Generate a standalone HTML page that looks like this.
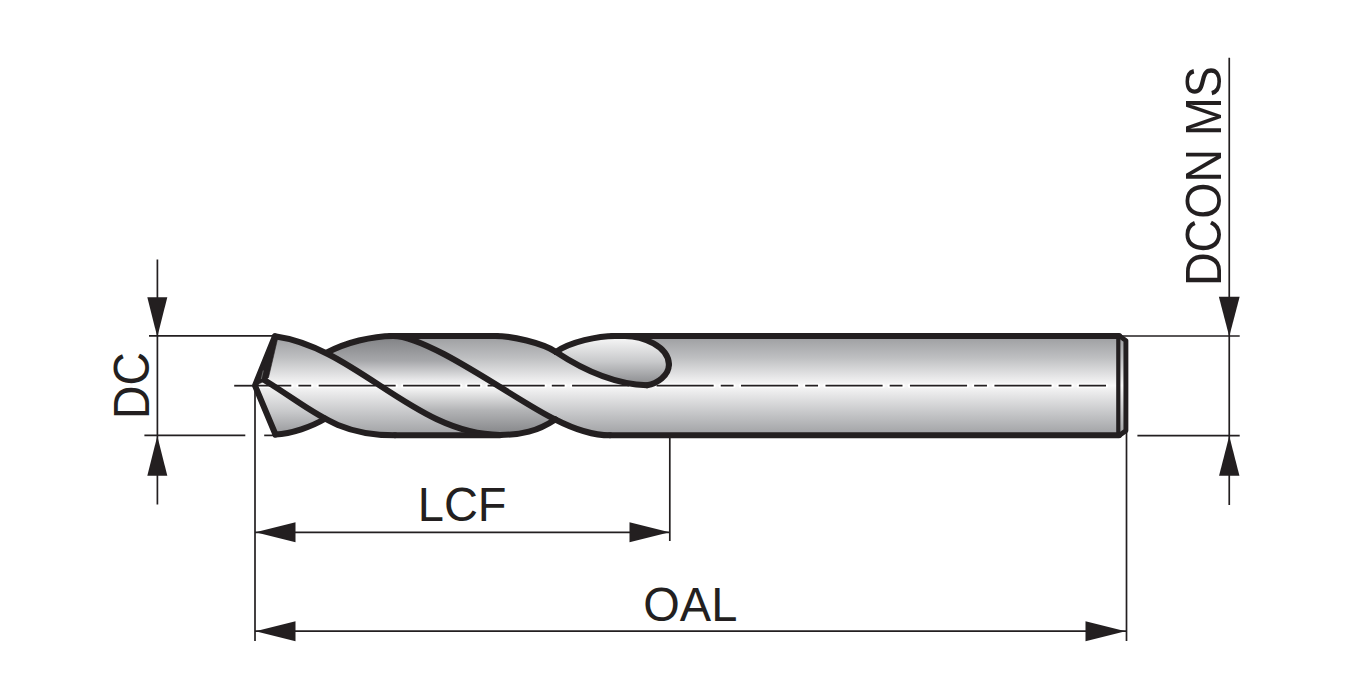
<!DOCTYPE html>
<html><head><meta charset="utf-8"><style>
html,body{margin:0;padding:0;background:#fff;width:1353px;height:700px;overflow:hidden;position:relative}
</style></head><body>
<svg width="1353" height="700" viewBox="0 0 1353 700" style="position:absolute;left:0;top:0">
<defs>
<linearGradient id="gL" gradientUnits="userSpaceOnUse" x1="0" y1="336" x2="0" y2="435">
<stop offset="0" stop-color="#9c9da0"/><stop offset="0.22" stop-color="#bebfc1"/><stop offset="0.42" stop-color="#e8e8e9"/>
<stop offset="0.5" stop-color="#f8f8f8"/><stop offset="0.58" stop-color="#e9e9ea"/><stop offset="0.8" stop-color="#c2c3c5"/><stop offset="1" stop-color="#a0a1a4"/>
</linearGradient>
<linearGradient id="gF" gradientUnits="userSpaceOnUse" x1="0" y1="336" x2="0" y2="435">
<stop offset="0" stop-color="#7f8083"/><stop offset="0.25" stop-color="#a6a7aa"/><stop offset="0.45" stop-color="#ebebec"/>
<stop offset="0.52" stop-color="#f6f6f6"/><stop offset="0.75" stop-color="#b3b4b6"/><stop offset="1" stop-color="#838487"/>
</linearGradient>
<linearGradient id="gT" gradientUnits="userSpaceOnUse" x1="0" y1="338" x2="0" y2="385">
<stop offset="0" stop-color="#f6f6f6"/><stop offset="0.5" stop-color="#c8c9cb"/><stop offset="1" stop-color="#898a8d"/>
</linearGradient>
<linearGradient id="gB" gradientUnits="userSpaceOnUse" x1="0" y1="386" x2="0" y2="436">
<stop offset="0" stop-color="#f3f3f3"/><stop offset="0.5" stop-color="#c9cacc"/><stop offset="1" stop-color="#949598"/>
</linearGradient>
</defs>
<path d="M255.00,385.60 L274.90,336.30 C293.23,338.85 310.42,345.24 327.00,353.60 C345.80,342.61 371.76,335.90 393.00,335.90 L495,335.90 C511.39,335.90 542.35,342.88 556.00,351.90 C570.04,341.97 598.04,335.90 615.00,335.90 L1119,335.90 L1126,340.8 L1126,430.5 L1119,435.35 L610,435.35 C592.60,435.35 572.32,428.26 555.30,419.53 C537.06,431.45 521.39,434.90 500.00,434.90 L500,435.35 L395,435.35 C364.54,435.35 344.07,428.94 325.00,418.75 C311.71,426.67 291.47,433.75 275.50,434.50 Z" fill="url(#gL)"/>
<path d="M327.00,352.50 C345.80,342.61 371.76,335.90 393.00,335.90 C430.17,335.90 520.41,403.52 555.30,419.40 L555.30,419.40 C537.06,431.45 521.39,434.90 500.00,434.90 C434.43,434.90 384.27,382.46 327.00,353.60 Z" fill="url(#gF)"/>
<path d="M556.00,351.90 C570.04,341.97 598.04,335.90 615.00,335.90 L625,335.90 C642.38,335.90 668.90,346.36 668.90,364.50 C668.90,375.65 656.94,383.69 647.00,385.20 L647.00,385.20 C614.01,384.12 583.10,369.78 556.00,351.90 Z" fill="url(#gT)"/>
<path d="M255.00,385.60 L275.50,434.50 C291.47,433.75 311.71,426.67 325.00,418.75 L325.00,418.75 C306.34,408.78 289.03,395.21 265.00,380.50 Z" fill="url(#gB)"/>
<path d="M234.2,385.7 L1106,385.7" stroke="#fff" stroke-opacity="0.9" stroke-width="4.5" stroke-linecap="round" stroke-dasharray="57.1 7.1 12.8 7.47" fill="none"/>
<path d="M234.2,385.7 L1106,385.7" stroke="#231f20" stroke-width="1.8" stroke-dasharray="57.1 7.1 12.8 7.47" fill="none"/>
<g fill="none" stroke="#231f20" stroke-width="6" stroke-linejoin="round" stroke-linecap="round">
<path d="M274.90,336.30 C356.50,347.67 415.43,434.90 500.00,434.90"/>
<path d="M500.00,434.90 C521.39,434.90 537.06,431.45 555.30,419.40"/>
<path d="M327.00,352.50 C345.80,342.61 371.76,335.90 393.00,335.90"/>
<path d="M393.00,335.90 C430.17,335.90 520.41,403.52 555.30,419.40"/>
<path d="M555.30,419.53 C572.32,428.26 592.60,435.35 610.00,435.35"/>
<path d="M495.00,335.90 C511.39,335.90 542.35,342.88 556.00,351.90"/>
<path d="M556.00,351.90 C583.10,369.78 614.01,384.12 647.00,385.20"/>
<path d="M647.00,385.20 C656.94,383.69 668.90,375.65 668.90,364.50"/>
<path d="M668.90,364.50 C668.90,346.36 642.38,335.90 625.00,335.90"/>
<path d="M556.00,351.90 C570.04,341.97 598.04,335.90 615.00,335.90"/>
<path d="M265.00,380.50 C313.59,410.25 334.73,435.35 395.00,435.35"/>
<path d="M275.50,434.50 C291.47,433.75 311.71,426.67 325.00,418.75"/>
<path d="M274.90,336.30 L255.00,385.60 L275.50,434.50"/>
<path d="M390,335.90 L497,335.90 M612,335.90 L1119,335.90 M1119,435.35 L610,435.35 M500,435.35 L395,435.35"/>
</g>
<path d="M274.9,336.3 L277.5,339 L268.5,377.5 L264,381.5 L255,385.6 Z" fill="#231f20" stroke="#231f20" stroke-width="0.6" stroke-linejoin="round"/>
<path d="M1118.3,337 L1118.3,434" stroke="#231f20" stroke-width="4.2"/>
<path d="M1117,335.9 L1119.5,335.9 L1125.9,340.6 L1125.9,430.7 L1119.5,435.35 L1117,435.35" fill="none" stroke="#231f20" stroke-width="4.9" stroke-linejoin="round"/>
<path d="M263.3,370.5 L261.3,379" stroke="#6e6e6e" stroke-width="0.9"/>
<line x1="157.40" y1="259.50" x2="157.40" y2="504.50" stroke="#231f20" stroke-width="1.70"/>
<line x1="149.00" y1="335.90" x2="275.00" y2="335.90" stroke="#231f20" stroke-width="1.70"/>
<line x1="144.40" y1="435.40" x2="245.30" y2="435.40" stroke="#231f20" stroke-width="1.70"/>
<line x1="264.20" y1="435.40" x2="275.00" y2="435.40" stroke="#231f20" stroke-width="1.70"/>
<path d="M157.30,337.00 L147.30,297.20 L167.30,297.20 Z" fill="#231f20"/>
<path d="M157.30,436.00 L147.30,475.80 L167.30,475.80 Z" fill="#231f20"/>
<line x1="255.00" y1="385.50" x2="255.00" y2="641.00" stroke="#231f20" stroke-width="1.70"/>
<line x1="669.80" y1="437.00" x2="669.80" y2="541.00" stroke="#231f20" stroke-width="1.70"/>
<line x1="1126.50" y1="430.00" x2="1126.50" y2="641.00" stroke="#231f20" stroke-width="1.70"/>
<line x1="255.00" y1="532.30" x2="669.80" y2="532.30" stroke="#231f20" stroke-width="1.70"/>
<path d="M255.50,532.30 L295.50,522.30 L295.50,542.30 Z" fill="#231f20"/>
<path d="M669.50,532.30 L629.50,522.30 L629.50,542.30 Z" fill="#231f20"/>
<line x1="255.00" y1="631.20" x2="1126.50" y2="631.20" stroke="#231f20" stroke-width="1.70"/>
<path d="M255.50,631.20 L295.50,621.20 L295.50,641.20 Z" fill="#231f20"/>
<path d="M1125.50,631.20 L1085.50,621.20 L1085.50,641.20 Z" fill="#231f20"/>
<line x1="1229.25" y1="57.70" x2="1229.25" y2="505.00" stroke="#231f20" stroke-width="1.70"/>
<line x1="1120.00" y1="336.00" x2="1239.70" y2="336.00" stroke="#231f20" stroke-width="1.70"/>
<line x1="1137.40" y1="435.60" x2="1239.70" y2="435.60" stroke="#231f20" stroke-width="1.70"/>
<path d="M1229.25,336.50 L1218.85,296.70 L1239.65,296.70 Z" fill="#231f20"/>
<path d="M1229.25,436.00 L1219.05,475.80 L1239.45,475.80 Z" fill="#231f20"/>
<g font-family="Liberation Sans, sans-serif" font-size="47" fill="#231f20">
<text transform="translate(417.8,520.7) scale(1,1.025)">LCF</text>
<text transform="translate(643.3,620.9) scale(1,1.025)">OAL</text>
<text transform="translate(149.0,419) rotate(-90) scale(0.985,1.057)">DC</text>
<text transform="translate(1221.2,286) rotate(-90) scale(0.99,1.057)">DCON MS</text>
</g>
</svg>
</body></html>
